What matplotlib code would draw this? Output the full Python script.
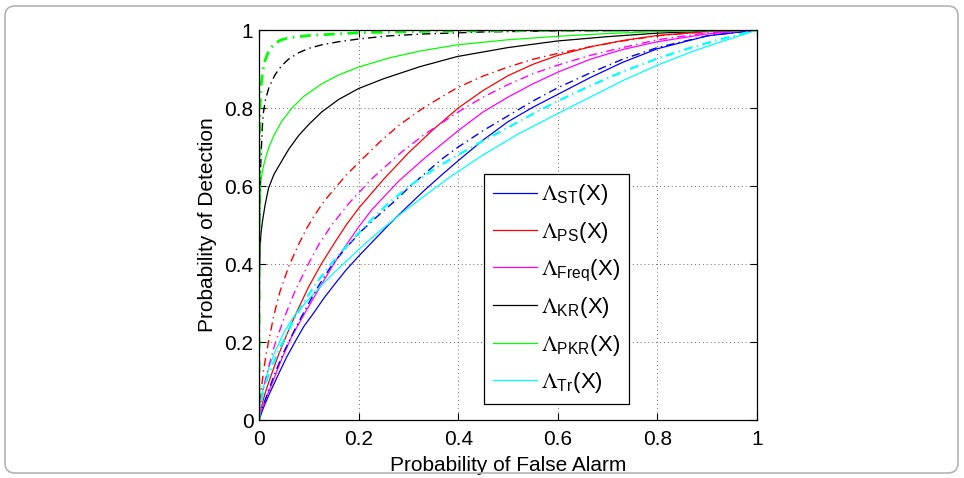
import matplotlib.pyplot as plt
import matplotlib.patches as mpatches

plt.rcParams['font.family'] = ['Liberation Sans', 'DejaVu Sans']
plt.rcParams['mathtext.fontset'] = 'stix'

# ROC curves: (false alarm, detection)
st_fa = [0, 0.005, 0.01, 0.02, 0.04, 0.055, 0.072, 0.09, 0.11, 0.13, 0.153, 0.175, 0.2, 0.23, 0.26, 0.3, 0.333,
         0.37, 0.4, 0.45, 0.5, 0.55, 0.6, 0.665, 0.73, 0.8, 0.9, 1]
st_pd = [0, 0.018, 0.035, 0.065, 0.12, 0.16, 0.2, 0.24, 0.275, 0.312, 0.35, 0.385, 0.42, 0.46, 0.5, 0.55, 0.59,
         0.632, 0.665, 0.718, 0.765, 0.802, 0.835, 0.878, 0.917, 0.952, 0.985, 1]
st2_fa = [0, 0.005, 0.012, 0.02, 0.035, 0.05, 0.075, 0.1, 0.12, 0.146, 0.175, 0.206, 0.24, 0.273, 0.3, 0.333,
          0.37, 0.4, 0.45, 0.5, 0.55, 0.6, 0.665, 0.73, 0.8, 0.9, 1]
st2_pd = [0, 0.025, 0.05, 0.08, 0.13, 0.175, 0.24, 0.3, 0.345, 0.397, 0.442, 0.485, 0.525, 0.562, 0.595, 0.632,
          0.672, 0.7, 0.742, 0.78, 0.818, 0.852, 0.89, 0.925, 0.955, 0.985, 1]

ps_fa = [0, 0.005, 0.012, 0.019, 0.03, 0.04, 0.056, 0.075, 0.099, 0.125, 0.153, 0.175, 0.2, 0.25, 0.3, 0.35,
         0.4, 0.45, 0.5, 0.55, 0.6, 0.665, 0.73, 0.8, 0.9, 1]
ps_pd = [0, 0.035, 0.068, 0.095, 0.135, 0.17, 0.22, 0.275, 0.34, 0.4, 0.457, 0.5, 0.543, 0.617, 0.685, 0.745,
         0.8, 0.845, 0.883, 0.912, 0.935, 0.957, 0.973, 0.986, 0.996, 1]
ps2_fa = [0, 0.002, 0.005, 0.009, 0.014, 0.019, 0.03, 0.042, 0.06, 0.079, 0.095, 0.112, 0.13, 0.153, 0.175,
          0.2, 0.24, 0.28, 0.333, 0.398, 0.45, 0.5, 0.55, 0.6, 0.665, 0.73, 0.8, 0.9, 1]
ps2_pd = [0, 0.045, 0.085, 0.125, 0.167, 0.2, 0.27, 0.329, 0.395, 0.449, 0.49, 0.526, 0.56, 0.595, 0.628,
          0.66, 0.71, 0.755, 0.803, 0.852, 0.882, 0.905, 0.925, 0.94, 0.957, 0.972, 0.985, 0.996, 1]

fq_fa = [0, 0.005, 0.012, 0.025, 0.045, 0.066, 0.09, 0.122, 0.15, 0.173, 0.2, 0.227, 0.28, 0.333, 0.4, 0.45,
         0.5, 0.55, 0.6, 0.665, 0.73, 0.8, 0.9, 1]
fq_pd = [0, 0.025, 0.05, 0.09, 0.155, 0.215, 0.27, 0.34, 0.4, 0.445, 0.495, 0.54, 0.612, 0.672, 0.742, 0.79,
         0.828, 0.862, 0.892, 0.925, 0.95, 0.97, 0.99, 1]
fq2_fa = [0, 0.003, 0.007, 0.012, 0.02, 0.032, 0.05, 0.072, 0.099, 0.12, 0.146, 0.18, 0.226, 0.287, 0.333,
          0.4, 0.45, 0.5, 0.55, 0.6, 0.665, 0.73, 0.8, 0.9, 1]
fq2_pd = [0, 0.04, 0.07, 0.098, 0.14, 0.195, 0.26, 0.33, 0.4, 0.45, 0.5, 0.555, 0.618, 0.688, 0.733,
          0.79, 0.828, 0.86, 0.888, 0.91, 0.935, 0.955, 0.975, 0.993, 1]

kr_fa = [0, 0.0003, 0.001, 0.002, 0.004, 0.0067, 0.012, 0.019, 0.03, 0.046, 0.06, 0.08, 0.1, 0.126, 0.16,
         0.2, 0.25, 0.323, 0.398, 0.5, 0.6, 0.7, 0.8, 0.9, 1]
kr_pd = [0, 0.2, 0.38, 0.44, 0.48, 0.508, 0.55, 0.594, 0.63, 0.665, 0.695, 0.73, 0.758, 0.79, 0.822,
         0.85, 0.875, 0.906, 0.932, 0.955, 0.972, 0.983, 0.992, 0.997, 1]
kr2_fa = [0, 0.0003, 0.001, 0.002, 0.0035, 0.005, 0.007, 0.009, 0.013, 0.02, 0.032, 0.045, 0.059, 0.08, 0.1,
          0.126, 0.16, 0.2, 0.26, 0.333, 0.45, 0.6, 1]
kr2_pd = [0, 0.3, 0.5, 0.6, 0.66, 0.705, 0.76, 0.79, 0.822, 0.853, 0.885, 0.908, 0.925, 0.942, 0.953,
          0.962, 0.97, 0.977, 0.985, 0.99, 0.995, 0.998, 1]

pkr_fa = [0, 0.0003, 0.001, 0.002, 0.004, 0.007, 0.012, 0.02, 0.03, 0.045, 0.066, 0.09, 0.126, 0.16, 0.2,
          0.26, 0.323, 0.398, 0.5, 0.6, 0.7, 0.8, 1]
pkr_pd = [0, 0.35, 0.5, 0.57, 0.615, 0.64, 0.667, 0.7, 0.73, 0.765, 0.8, 0.83, 0.862, 0.885, 0.905,
          0.928, 0.946, 0.962, 0.975, 0.984, 0.991, 0.996, 1]
pkr2_fa = [0, 0.0002, 0.0006, 0.001, 0.002, 0.004, 0.007, 0.012, 0.02, 0.032, 0.045, 0.06, 0.1, 0.2, 0.35,
           0.6, 1]
pkr2_pd = [0, 0.5, 0.65, 0.72, 0.8, 0.855, 0.89, 0.922, 0.948, 0.966, 0.975, 0.98, 0.986, 0.993, 0.997,
           0.999, 1]

tr_fa = [0, 0.001, 0.003, 0.007, 0.012, 0.02, 0.032, 0.05, 0.072, 0.1, 0.126, 0.15, 0.18, 0.21, 0.24, 0.28,
         0.323, 0.38, 0.45, 0.52, 0.6, 0.665, 0.73, 0.8, 0.87, 0.94, 1]
tr_pd = [0, 0.025, 0.05, 0.075, 0.1, 0.135, 0.175, 0.225, 0.27, 0.31, 0.346, 0.377, 0.413, 0.449, 0.482, 0.524,
         0.566, 0.62, 0.68, 0.733, 0.786, 0.828, 0.87, 0.91, 0.945, 0.975, 1]
tr2_fa = [0, 0.001, 0.003, 0.007, 0.012, 0.025, 0.046, 0.07, 0.096, 0.119, 0.14, 0.166, 0.195, 0.226, 0.26,
          0.3, 0.357, 0.4, 0.44, 0.5, 0.55, 0.6, 0.665, 0.73, 0.8, 0.86, 0.92, 1]
tr2_pd = [0, 0.02, 0.04, 0.065, 0.09, 0.135, 0.195, 0.258, 0.315, 0.358, 0.393, 0.432, 0.473, 0.514, 0.556,
          0.598, 0.648, 0.68, 0.709, 0.75, 0.785, 0.818, 0.857, 0.893, 0.927, 0.952, 0.974, 1]

labels = [r'$\Lambda_{\mathregular{ST}}$(X)', r'$\Lambda_{\mathregular{PS}}$(X)', r'$\Lambda_{\mathregular{Freq}}$(X)',
          r'$\Lambda_{\mathregular{KR}}$(X)', r'$\Lambda_{\mathregular{PKR}}$(X)', r'$\Lambda_{\mathregular{Tr}}$(X)']
ticks = [0, 0.2, 0.4, 0.6, 0.8, 1]
tick_labels = ['0', '0.2', '0.4', '0.6', '0.8', '1']

fig = plt.figure(figsize=(9.64, 4.78), dpi=100)
ax = fig.add_axes([0.2687, 0.1213, 0.5166, 0.8159])

solid = [(st_fa, st_pd, '#0000ff'), (ps_fa, ps_pd, '#ff0000'), (fq_fa, fq_pd, '#ff00ff'),
         (kr_fa, kr_pd, 'k'), (pkr_fa, pkr_pd, '#00ff00'), (tr_fa, tr_pd, '#00ffff')]
dashdot = [(st2_fa, st2_pd, '#0000ff', 1.0), (ps2_fa, ps2_pd, '#ff0000', 1.0), (fq2_fa, fq2_pd, '#ff00ff', 1.0),
           (kr2_fa, kr2_pd, 'k', 1.0), (pkr2_fa, pkr2_pd, '#00ff00', 2.0), (tr2_fa, tr2_pd, '#00ffff', 1.6)]

handles = []
for (x, y, c), lab in zip(solid, labels):
    h, = ax.plot(x, y, color=c, lw=0.9, label=lab)
    handles.append(h)
for x, y, c, w in dashdot:
    ax.plot(x, y, color=c, lw=w, dashes=(6, 3, 1, 3) if w < 1.5 else (4, 2, 0.6, 2))

ax.set_xlim(0, 1)
ax.set_ylim(0, 1)
ax.set_xticks(ticks)
ax.set_xticklabels(tick_labels)
ax.set_yticks(ticks)
ax.set_yticklabels(tick_labels)
ax.tick_params(direction='in', top=True, right=True, length=5, width=0.8, labelsize=15, pad=4)
ax.tick_params(axis='x', pad=7)
ax.grid(True, color='#6a6a6a', linestyle=(0, (1, 3)), lw=0.7)
for s in ax.spines.values():
    s.set_linewidth(0.9)

ax.set_xlabel('Probability of False Alarm', fontsize=15, labelpad=5)
ax.set_ylabel('Probability of Detection', fontsize=15, labelpad=5)

leg = ax.legend(handles=handles, loc='lower left', bbox_to_anchor=(0.452, 0.041, 0.291, 0.592),
                mode='expand', borderaxespad=0, fontsize=16, handlelength=2.0, handletextpad=0.18,
                labelspacing=0.56, fancybox=False, framealpha=1, edgecolor='k')
leg.get_frame().set_linewidth(0.9)

border = mpatches.FancyBboxPatch((5, 5), 953, 467, boxstyle='round,pad=0,rounding_size=10',
                                 transform=None, fill=False, edgecolor='#b4b4b4', lw=1.2)
fig.add_artist(border)

fig.savefig('out.png', dpi=100)
